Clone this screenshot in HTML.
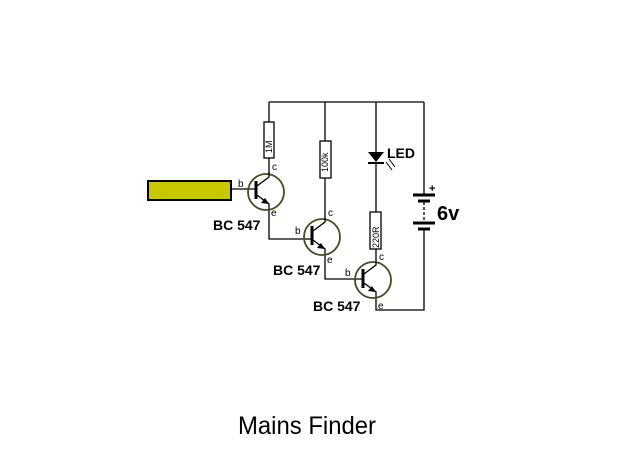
<!DOCTYPE html>
<html><head><style>
html,body{margin:0;padding:0;background:#fff;width:620px;height:465px;overflow:hidden}
svg{display:block}
text{font-family:"Liberation Sans",Arial,sans-serif}
</style></head><body>
<svg width="620" height="465" viewBox="0 0 620 465">
<g stroke="#000" stroke-width="1.3" fill="none">
<path d="M269 102 H424"/>
<path d="M269 102 V122 M269 158 V175"/>
<rect x="264" y="122" width="10" height="36" fill="#fff"/>
<path d="M325 102 V141 M325 178 V220"/>
<rect x="320" y="141" width="11" height="37" fill="#fff"/>
<path d="M376 102 V152 M376 163 V212 M376 249 V263"/>
<rect x="370" y="212" width="11" height="37" fill="#fff"/>
<path d="M424 102 V195 M424 229 V310 H376 V297"/>
<path d="M424 202 V222" stroke-dasharray="3,2"/>
<path d="M269 209 V239 H313"/>
<path d="M325 254 V279 H362"/>
<path d="M231 189 H256"/>
</g>
<rect x="148" y="181" width="83" height="19" fill="#c8c800" stroke="#000" stroke-width="2"/>
<g stroke="#000" stroke-width="3">
<path d="M413 195 H435 M418 201 H430 M413 223 H435 M418 229 H430"/>
</g>
<polygon points="368,152 384,152 376,162" fill="#000"/>
<path d="M368 163 H384" stroke="#000" stroke-width="2"/>
<g stroke="#000" stroke-width="1"><path d="M386 162 L392 170 M389 159 L395 167"/></g>
<g stroke="#000" stroke-width="1.3" fill="none">
<circle cx="266" cy="192" r="18" stroke="#4a4a20" stroke-width="1.8"/>
<path d="M256 181 V199" stroke-width="3"/>
<path d="M257 186 L269 177 V172 M257 195 L269 204 V209"/>
<circle cx="322" cy="237" r="18" stroke="#4a4a20" stroke-width="1.8"/>
<path d="M312 226 V245" stroke-width="3"/>
<path d="M313 231 L325 222 V218 M313 240 L325 249 V254"/>
<circle cx="373" cy="280" r="18" stroke="#4a4a20" stroke-width="1.8"/>
<path d="M363 269 V288" stroke-width="3"/>
<path d="M364 274 L376 265 V262 M364 283 L376 292 V297"/>
</g>
<g fill="#000">
<polygon points="269,204 261,203 265,198"/>
<polygon points="325,249 317,248 321,243"/>
<polygon points="376,292 368,291 372,286"/>
</g>
<g font-size="10" fill="#000">
<text x="272" y="170">c</text><text x="238" y="187">b</text><text x="271" y="216">e</text>
<text x="328" y="216">c</text><text x="295" y="234">b</text><text x="327" y="263">e</text>
<text x="379" y="260">c</text><text x="345" y="276">b</text><text x="378" y="309">e</text>
</g>
<g font-size="9" fill="#000">
<text transform="translate(272,153) rotate(-90)">1M</text>
<text transform="translate(328,172) rotate(-90)">100k</text>
<text transform="translate(379,248) rotate(-90)">220R</text>
</g>
<g font-weight="bold" font-size="14" fill="#000">
<text x="213" y="230">BC 547</text>
<text x="273" y="275">BC 547</text>
<text x="313" y="311">BC 547</text>
<text x="387" y="158">LED</text>
<text x="429" y="192" font-size="11">+</text>
<text x="437" y="220" font-size="20">6v</text>
</g>
<text x="238" y="434" font-size="25" fill="#000" textLength="138" lengthAdjust="spacingAndGlyphs">Mains Finder</text>
</svg>
</body></html>
